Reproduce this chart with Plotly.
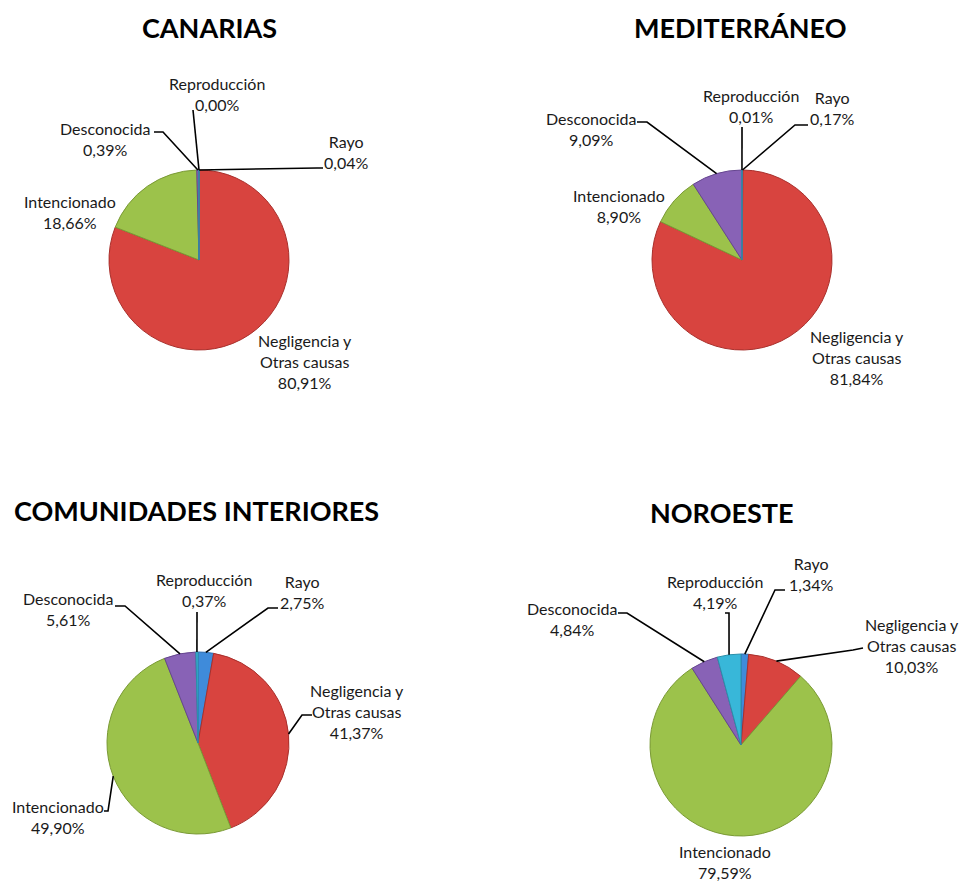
import math
import plotly.graph_objects as go

# ---------------- data ----------------
causes = ["Rayo", "Negligencia y<br>Otras causas", "Intencionado", "Desconocida", "Reproducción"]
canarias = [0.04, 80.91, 18.66, 0.39, 0.00]
mediterraneo = [0.17, 81.84, 8.90, 9.09, 0.01]
interiores = [2.75, 41.37, 49.90, 5.61, 0.37]
noroeste = [1.34, 10.03, 79.59, 4.84, 4.19]
regions = ["CANARIAS", "MEDITERRÁNEO", "COMUNIDADES INTERIORES", "NOROESTE"]
series = [canarias, mediterraneo, interiores, noroeste]

# ---------------- style / layout ----------------
W, H = 962, 882
colors = ["#3F8BDA", "#D8443F", "#9CC24B", "#8862B6", "#38B7D9"]
edges = ["#2E6DAE", "#A9302C", "#7A9A35", "#664690", "#2A8FAA"]
FONT = "Lato, 'Open Sans', sans-serif"

# pie centre (px) and radius (px)
pies = [(199, 260, 90), (742, 260, 90), (198, 743, 91), (741, 745, 91)]
titles_pos = [(209, 27), (740, 27), (196, 510), (722, 512)]

# per pie, per cause: label centre (px) and leader (elbow, end) or None
labels_layout = [
    [((346, 152), ((317, 168), (323, 168))),
     ((305, 361), None),
     ((70, 212), None),
     ((105, 139), ((163, 132), (154, 132))),
     ((217, 94), ((193, 110), (193, 110)))],
    [((832, 108), ((795, 125), (808, 125))),
     ((857, 357), None),
     ((619, 206), None),
     ((591, 129), ((647, 122), (637, 122))),
     ((751, 106), ((742, 127), (742, 127)))],
    [((302, 592), ((268, 608), (278, 608))),
     ((357, 711), ((302, 715), (312, 715))),
     ((58, 817), ((108, 811), (104, 811))),
     ((68, 609), ((125, 606), (115, 606))),
     ((204, 590), ((197, 612), (197, 612)))],
    [((811, 574), ((775, 590), (785, 590))),
     ((912, 645), ((853, 650), (863, 648))),
     ((725, 862), None),
     ((572, 619), ((627, 613), (618, 613))),
     ((715, 592), ((729, 613), (725, 613)))],
]


def px(x):
    return x / W


def py(y):
    return 1 - y / H


def fmt(v):
    return f"{v:.2f}".replace(".", ",") + "%"


fig = go.Figure()
annotations = []
shapes = []

for k, vals in enumerate(series):
    cx, cy, r = pies[k]
    fig.add_trace(go.Pie(
        labels=causes, values=vals, sort=False, direction="clockwise", rotation=0,
        textinfo="none", hoverinfo="label+percent",
        marker=dict(colors=colors, line=dict(color=edges, width=1)),
        domain=dict(x=[px(cx - r), px(cx + r)], y=[py(cy + r), py(cy - r)]),
        showlegend=False,
    ))
    tx, ty = titles_pos[k]
    annotations.append(dict(x=px(tx), y=py(ty), xref="paper", yref="paper",
                            text=f"<b>{regions[k]}</b>", showarrow=False,
                            font=dict(family=FONT, size=27, color="#000000"),
                            xanchor="center", yanchor="middle"))
    total = sum(vals)
    cum = 0.0
    for i, v in enumerate(vals):
        mid = (cum + v / 2) / total * 2 * math.pi
        cum += v
        ex, ey = cx + r * math.sin(mid), cy - r * math.cos(mid)
        (lx, ly), lead = labels_layout[k][i]
        annotations.append(dict(x=px(lx), y=py(ly), xref="paper", yref="paper",
                                text=f"{causes[i]}<br>{fmt(v)}", showarrow=False,
                                font=dict(family=FONT, size=16, color="#1a1a1a"),
                                align="center", xanchor="center", yanchor="middle"))
        if lead is not None:
            (bx, by), (dx, dy) = lead
            path = f"M {px(ex)},{py(ey)} L {px(bx)},{py(by)} L {px(dx)},{py(dy)}"
            shapes.append(dict(type="path", path=path, xref="paper", yref="paper",
                               line=dict(color="#000000", width=1.6)))

fig.update_layout(
    width=W, height=H, margin=dict(l=0, r=0, t=0, b=0),
    paper_bgcolor="white", plot_bgcolor="white",
    annotations=annotations, shapes=shapes,
)
fig.write_html("out.html", config={"displayModeBar": False},
               post_script="document.body.style.margin='0px';document.body.style.padding='0px';")
